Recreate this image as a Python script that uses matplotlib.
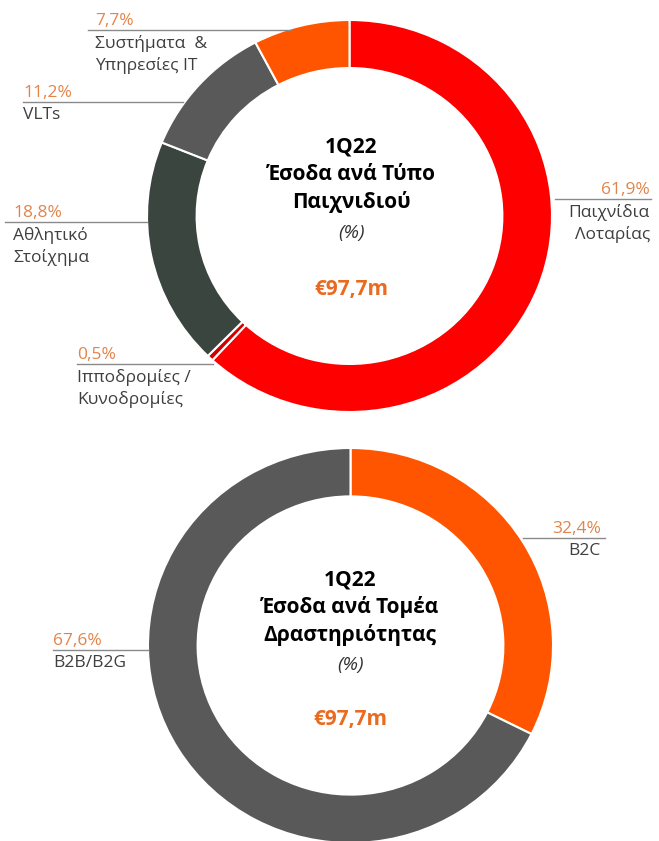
import matplotlib.pyplot as plt

plt.rcParams['font.family'] = ['Open Sans', 'DejaVu Sans']

# top donut: revenue by game type
game_labels = ['Παιχνίδια\nΛοταρίας', 'Ιπποδρομίες /\nΚυνοδρομίες', 'Αθλητικό\nΣτοίχημα',
               'VLTs', 'Συστήματα  &\nΥπηρεσίες IT']
game_pct = [61.9, 0.5, 18.8, 11.2, 7.7]
game_colors = ['#ff0000', '#d40000', '#3b4540', '#595959', '#ff5500']

# bottom donut: revenue by activity
seg_labels = ['B2C', 'B2B/B2G']
seg_pct = [32.4, 67.6]
seg_colors = ['#ff5500', '#595959']

total = '€97,7m'
period = '1Q22'

PCT_COLOR = '#e2844a'
LBL_COLOR = '#3f3f3f'
LINE_COLOR = '#8a8a8a'
VAL_COLOR = '#ea6a1f'

W, H = 659, 841
fig = plt.figure(figsize=(W / 100, H / 100), dpi=100)


def donut(left, top, w, h, values, colors):
    ax = fig.add_axes([left / W, (H - top - h) / H, w / W, h / H])
    ax.pie(values, colors=colors, startangle=90, counterclock=False,
           wedgeprops=dict(width=0.245, edgecolor='white', linewidth=1.5))
    ax.set_aspect('auto')
    ax.set_xlim(-1, 1)
    ax.set_ylim(-1, 1)
    ax.axis('off')
    return ax


donut(147, 20, 405, 392, game_pct, game_colors)
donut(148, 448, 405, 395, seg_pct, seg_colors)

# overlay in pixel coordinates for labels
ov = fig.add_axes([0, 0, 1, 1])
ov.set_xlim(0, W)
ov.set_ylim(H, 0)
ov.axis('off')
ov.patch.set_alpha(0)


def fmt(v):
    return f'{v:.1f}'.replace('.', ',') + '%'


def label(pct, text, x, y_line, x0, x1, ha='left'):
    ov.plot([x0, x1], [y_line, y_line], color=LINE_COLOR, lw=1)
    ov.text(x, y_line - 5, fmt(pct), color=PCT_COLOR, fontsize=12.5,
            ha=ha, va='baseline')
    ov.text(x, y_line + 5, text, color=LBL_COLOR, fontsize=12.5,
            ha=ha, va='top', linespacing=1.35)


label(game_pct[0], game_labels[0], 650, 199, 555, 651, ha='right')
label(game_pct[1], game_labels[1], 77, 364, 77, 213)
label(game_pct[2], game_labels[2], 13, 222, 5, 147)
label(game_pct[3], game_labels[3], 23, 102, 23, 183)
label(game_pct[4], game_labels[4], 95, 30, 88, 290)

label(seg_pct[0], seg_labels[0], 601, 538, 523, 605, ha='right')
label(seg_pct[1], seg_labels[1], 53, 650, 53, 148)


def center_text(cx, lines, y_title, y_pct, y_val):
    for i, ln in enumerate(lines):
        ov.text(cx, y_title + i * 27.5, ln, ha='center', va='center',
                fontsize=15, fontweight='bold', color='black')
    ov.text(cx, y_pct, '(%)', ha='center', va='center', fontsize=14,
            style='italic', color='#333333')
    ov.text(cx, y_val, total, ha='center', va='center', fontsize=15,
            fontweight='bold', color=VAL_COLOR)


center_text(351, [period, 'Έσοδα ανά Τύπο', 'Παιχνιδιού'], 147, 233, 289)
center_text(350, [period, 'Έσοδα ανά Τομέα', 'Δραστηριότητας'], 580, 665, 720)

fig.savefig('out.png', dpi=100)
